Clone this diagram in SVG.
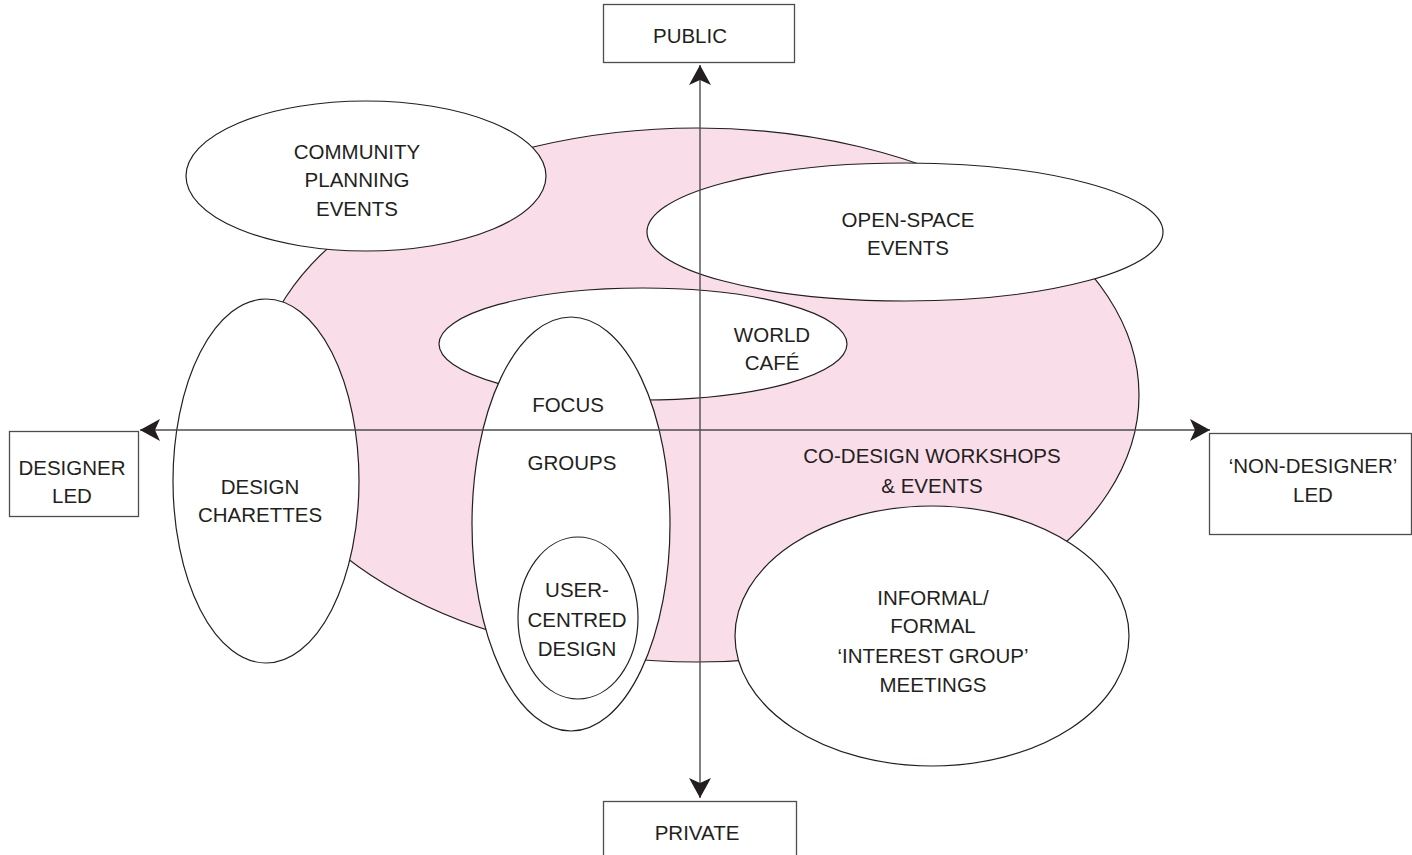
<svg xmlns="http://www.w3.org/2000/svg" width="1412" height="855" viewBox="0 0 1412 855">
<style>
.bg{fill:#ffffff}
.pink{fill:#f9dde8;stroke:#231f20;stroke-width:1.2}
.node{fill:#ffffff;stroke:#231f20;stroke-width:1.2}
.box{fill:#ffffff;stroke:#4d4d4d;stroke-width:1.3}
.axis{fill:none;stroke:#4d4d4d;stroke-width:1.4}
text{font-family:"Liberation Sans",Arial,sans-serif;font-size:20.5px;fill:#231f20;text-anchor:middle}
</style>
<defs>
<marker id="arrow" viewBox="0 0 20 22" refX="20" refY="11" markerWidth="20" markerHeight="22" markerUnits="userSpaceOnUse" orient="auto-start-reverse">
<path d="M0,0 L20,11 L0,22 L5,11 Z" fill="#231f20"/>
</marker>
</defs>
<rect class="bg" x="0" y="0" width="1412" height="855"/>

<g id="codesign">
<ellipse class="pink" cx="697" cy="395" rx="442" ry="267"/>
<text x="932" y="463">CO-DESIGN WORKSHOPS</text>
<text x="932" y="493">&amp; EVENTS</text>
</g>

<g id="community-planning">
<ellipse class="node" cx="366" cy="176" rx="180" ry="75"/>
<text x="357" y="159">COMMUNITY</text>
<text x="357" y="187">PLANNING</text>
<text x="357" y="216">EVENTS</text>
</g>

<g id="open-space">
<ellipse class="node" cx="905" cy="232" rx="258" ry="69"/>
<text x="908" y="227">OPEN-SPACE</text>
<text x="908" y="255">EVENTS</text>
</g>

<g id="world-cafe">
<ellipse class="node" cx="643" cy="344" rx="204" ry="56"/>
<text x="772" y="342">WORLD</text>
<text x="772" y="370">CAFÉ</text>
</g>

<g id="focus-groups">
<ellipse class="node" cx="571" cy="524" rx="99" ry="207"/>
<text x="568" y="412">FOCUS</text>
<text x="572" y="470">GROUPS</text>
</g>

<g id="user-centred">
<ellipse class="node" cx="578" cy="618" rx="60" ry="81"/>
<text x="577" y="597">USER-</text>
<text x="577" y="627">CENTRED</text>
<text x="577" y="656">DESIGN</text>
</g>

<g id="design-charettes">
<ellipse class="node" cx="266" cy="481" rx="93" ry="182"/>
<text x="260" y="494">DESIGN</text>
<text x="260" y="522">CHARETTES</text>
</g>

<g id="interest-group">
<ellipse class="node" cx="932" cy="636" rx="197" ry="130"/>
<text x="933" y="605">INFORMAL/</text>
<text x="933" y="633">FORMAL</text>
<text x="933" y="663">‘INTEREST GROUP’</text>
<text x="933" y="692">MEETINGS</text>
</g>

<g id="public">
<rect class="box" x="603.5" y="4.5" width="191" height="58"/>
<text x="690" y="43">PUBLIC</text>
</g>

<g id="private">
<rect class="box" x="603.5" y="801.5" width="193" height="60"/>
<text x="697" y="840">PRIVATE</text>
</g>

<g id="designer-led">
<rect class="box" x="9.5" y="431.5" width="129" height="85"/>
<text x="72" y="475">DESIGNER</text>
<text x="72" y="503">LED</text>
</g>

<g id="non-designer-led">
<rect class="box" x="1209.5" y="433.5" width="202" height="101"/>
<text x="1313" y="473">‘NON-DESIGNER’</text>
<text x="1313" y="502">LED</text>
</g>

<g id="connectors">
<line class="axis" x1="700" y1="65" x2="700" y2="798" marker-start="url(#arrow)" marker-end="url(#arrow)"/>
<line class="axis" x1="140" y1="430" x2="1210" y2="430" marker-start="url(#arrow)" marker-end="url(#arrow)"/>
</g>
</svg>
